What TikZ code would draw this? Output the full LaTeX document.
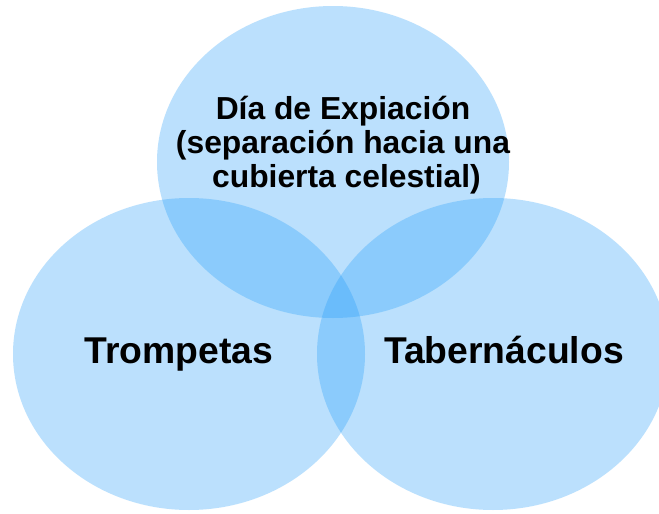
\documentclass[tikz,border=0pt]{standalone}
\usepackage{fontspec}
\setmainfont{Liberation Sans}
\definecolor{setBlue}{RGB}{30,155,250}
\tikzset{
  setFill/.style={fill=setBlue,fill opacity=.3,draw=none},
  setLabel/.style={font=\bfseries\fontsize{37.3}{40}\selectfont,inner sep=0pt,anchor=base},
}
\NewDocumentCommand\DrawSet{mm}%
{%
\fill[setFill] ({#1},{#2}) ellipse [x radius=176,y radius=156];%
}

\begin{document}
\begin{tikzpicture}[x=1pt,y=-1pt]
\useasboundingbox[fill=white] (0,0) rectangle (659,514);
\begin{scope}
\clip (0,0) rectangle (659,514);
\DrawSet{333}{162}
\DrawSet{189}{354}
\DrawSet{493}{354}
\end{scope}
\node[font=\bfseries\fontsize{31.8}{34}\selectfont,align=center,inner sep=0pt] (atonement) at (343,145)
  {Día de Expiación\\(separación hacia una\\\hspace*{7pt}cubierta celestial)};
\node[setLabel] (trumpets) at (179,363) {Trompetas};
\node[setLabel] (tabernacles) at (504,363) {Tabernáculos};
\end{tikzpicture}
\end{document}
